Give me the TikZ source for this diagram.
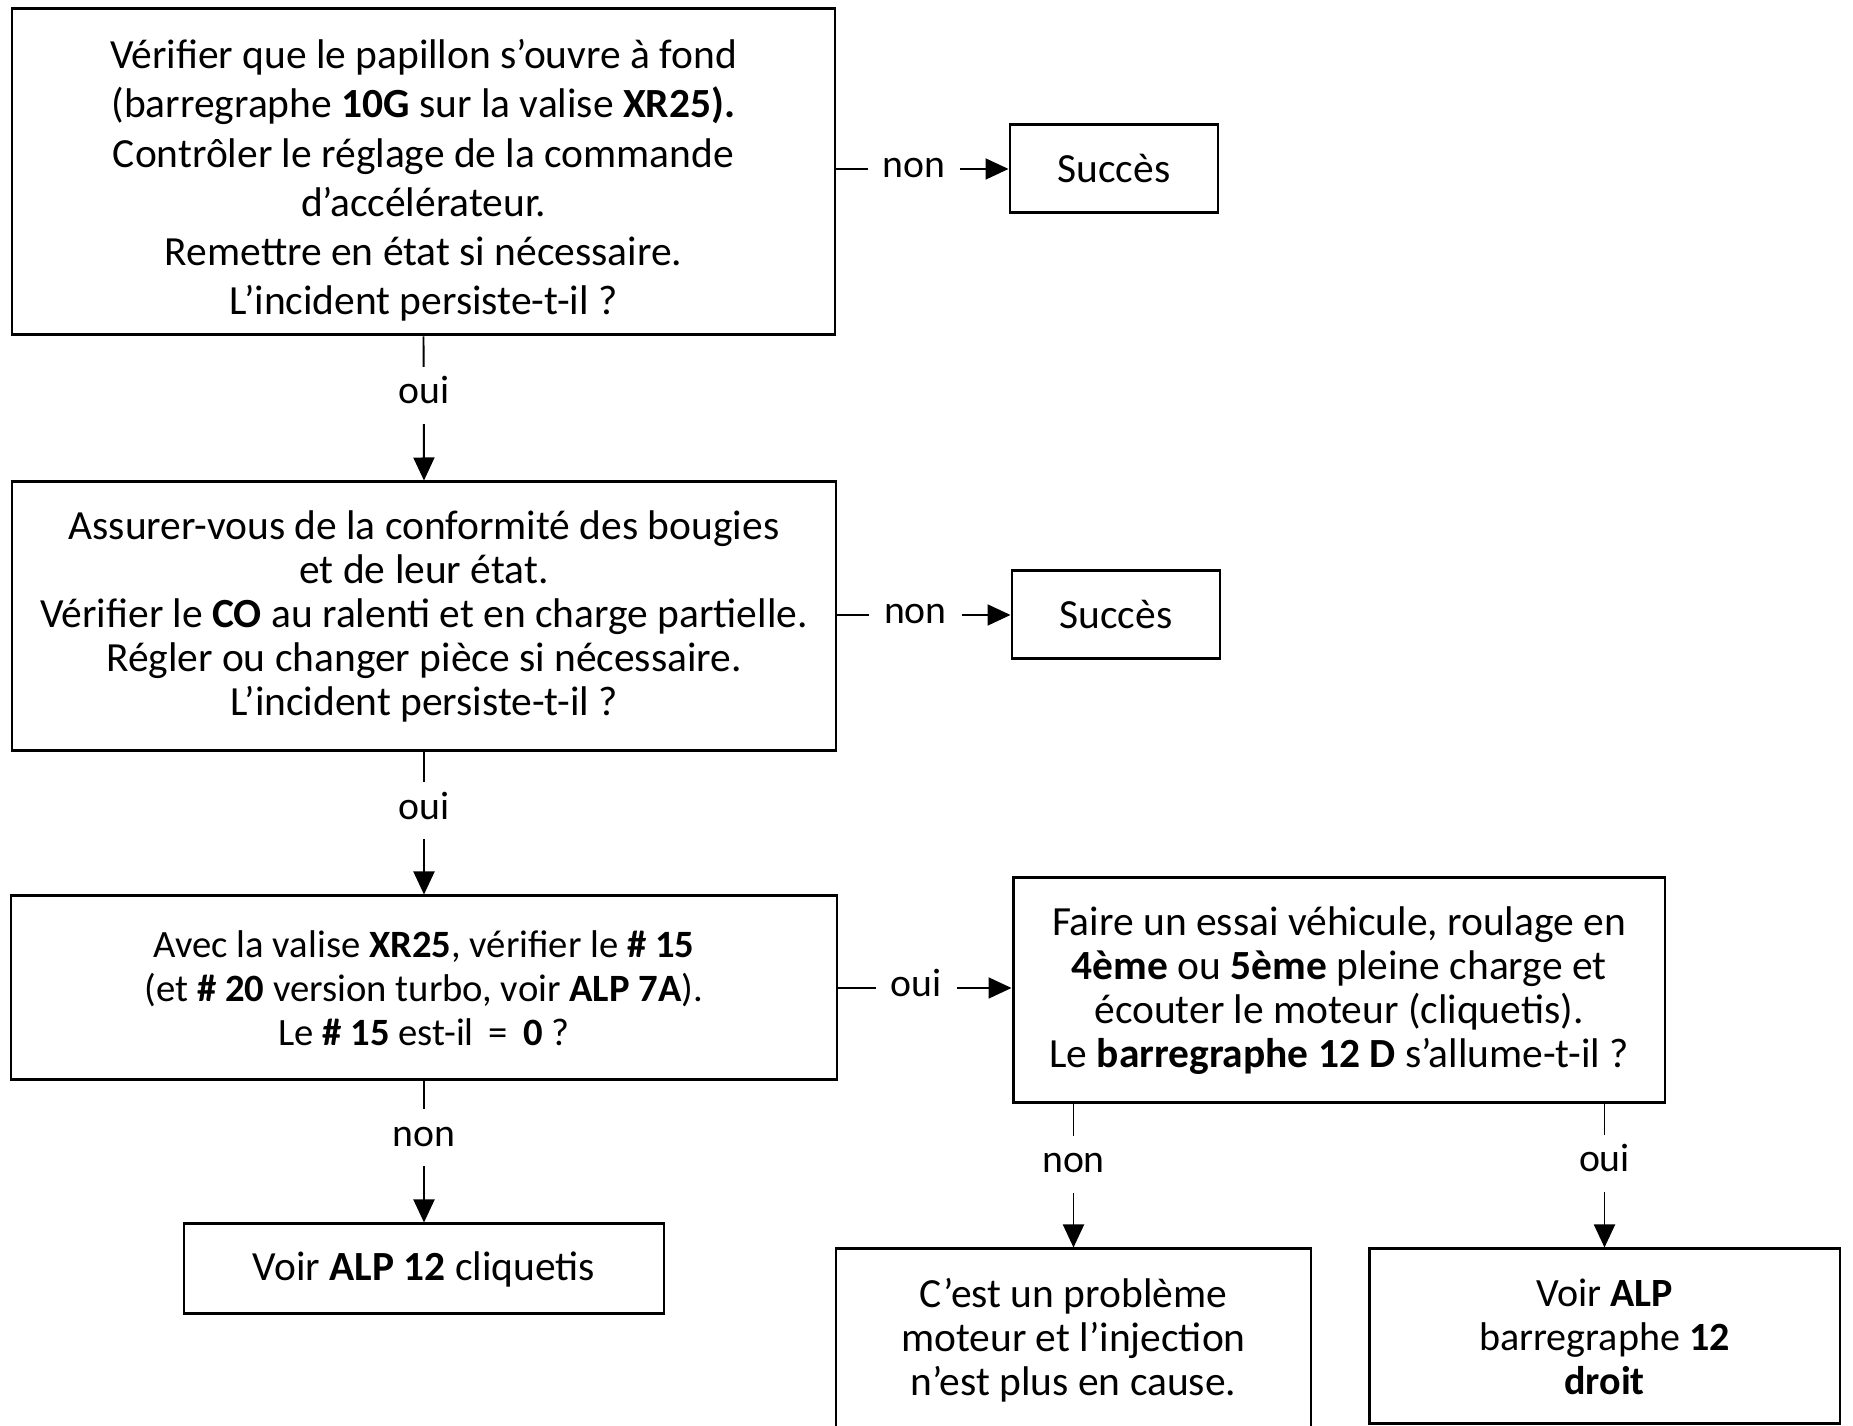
\documentclass[tikz,border=0pt]{standalone}
\usepackage{fontspec}
\setmainfont{Carlito}
\usetikzlibrary{arrows.meta}

\begin{document}
\begin{tikzpicture}[x=.1mm,y=-.1mm,
    stepbox/.style={draw,line width=.85pt,align=center,inner sep=0pt,font=\fontsize{11.8}{12.5}\selectfont},
    flow/.style={line width=.55pt,-{Triangle[length=2.3mm,width=2.1mm]}},
    answer/.style={fill=white,inner xsep=1.5mm,inner ysep=2mm,text height=1ex,text depth=0pt,font=\fontsize{11.3}{12.5}\selectfont}]
  \clip (0,0) rectangle (1853,1426);
  % left column
  \node[stepbox,font=\fontsize{11.8}{14}\selectfont,minimum width=82.3mm,minimum height=32.6mm] (papillon) at (423.5,172)
    {\rule{0pt}{4.6mm}Vérifier que le papillon s'ouvre à fond\\
     (barregraphe \textbf{10G} sur la valise \textbf{XR25).}\\
     Contrôler le réglage de la commande\\
     d'accélérateur.\\
     Remettre en état si nécessaire.\\
     L'incident persiste-t-il ?};
  \node[stepbox,minimum width=82.4mm,minimum height=26.9mm] (bougies) at (424,616.5)
    {Assurer-vous de la conformité des bougies\\
     et de leur état.\\
     Vérifier le \textbf{CO} au ralenti et en charge partielle.\\
     Régler ou changer pièce si nécessaire.\\
     L'incident persiste-t-il ?};
  \node[stepbox,font=\fontsize{11}{12.5}\selectfont,minimum width=82.6mm,minimum height=18.4mm] (valise) at (424,988)
    {Avec la valise \textbf{XR25}, vérifier le \textbf{\# 15}\\
     (et \textbf{\# 20} version turbo, voir \textbf{ALP 7A}).\\
     Le \textbf{\# 15} est-il \,=\, \textbf{0} ?};
  \node[stepbox,minimum width=48mm,minimum height=9mm] (cliquetis) at (424,1269)
    {Voir \textbf{ALP 12} cliquetis};
  % right column
  \node[stepbox,minimum width=20.8mm,minimum height=8.8mm] (ok1) at (1114,169) {Succès};
  \node[stepbox,minimum width=20.8mm,minimum height=8.8mm] (ok2) at (1116,615) {Succès};
  \node[stepbox,minimum width=65.2mm,minimum height=22.5mm] (essai) at (1339,990.5)
    {Faire un essai véhicule, roulage en\\
     \textbf{4ème} ou \textbf{5ème} pleine charge et\\
     écouter le moteur (cliquetis).\\
     Le \textbf{barregraphe 12 D} s'allume-t-il ?};
  \node[stepbox,minimum width=47.5mm,minimum height=18.3mm] (moteur) at (1073.5,1340.5)
    {C'est un problème\\ moteur et l'injection\\ n'est plus en cause.};
  \node[stepbox,font=\fontsize{11.4}{12.5}\selectfont,minimum width=47.1mm,minimum height=17.5mm] (droit) at (1604.5,1336.5)
    {Voir \textbf{ALP}\\ barregraphe \textbf{12}\\ \textbf{droit}};

  \draw[flow] (papillon.east |- ok1) -- node[answer,pos=.45]{non} (ok1.west);
  \draw[flow] (bougies.east |- ok2) -- node[answer,pos=.45]{non} (ok2.west);
  \draw[flow] (valise.east) -- node[answer,pos=.45]{oui} (valise.east -| essai.west);
  \draw[flow] (papillon.south) -- node[answer,pos=.41]{oui} (bougies.north);
  \draw[flow] (bougies.south) -- node[answer,pos=.41]{oui} (valise.north);
  \draw[flow] (valise.south) -- node[answer,pos=.4]{non} (cliquetis.north);
  \draw[flow] (essai.south -| moteur.north) -- node[answer,pos=.42]{non} (moteur.north);
  \draw[flow] (essai.south -| droit.north) -- node[answer,pos=.41]{oui} (droit.north);
\end{tikzpicture}
\end{document}
